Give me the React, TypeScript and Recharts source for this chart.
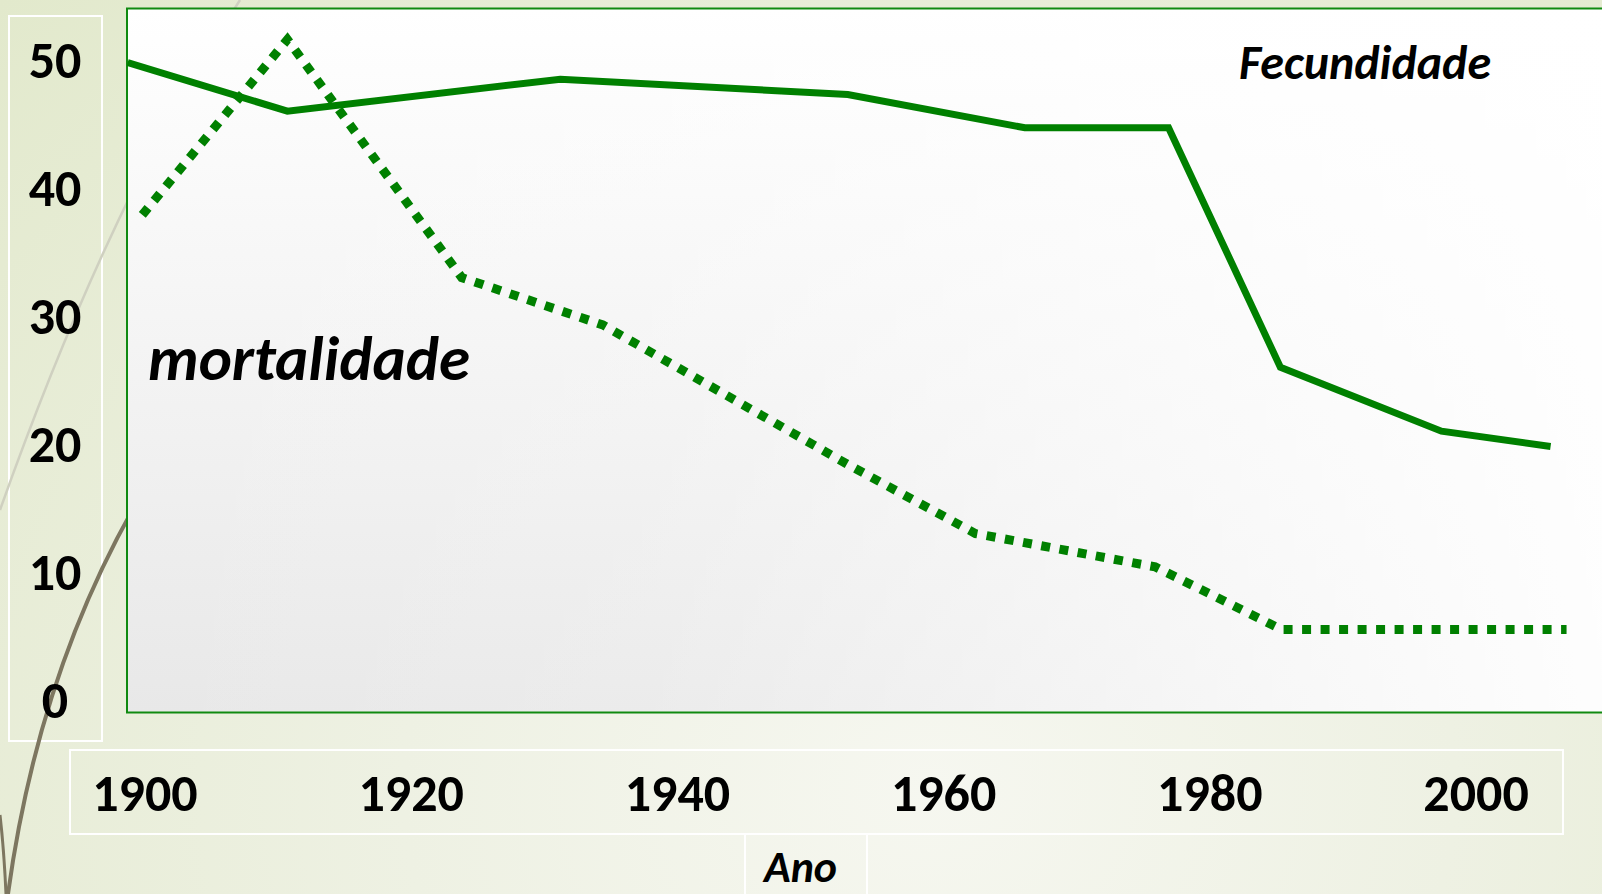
import { LineChart, Line, XAxis, YAxis } from 'recharts'

// anos e taxas (por mil)
const fecYears = [1898.7, 1910.7, 1931.2, 1952.8, 1966.1, 1976.9, 1985.3, 1997.4, 2005.6]
const fecRates = [49.8, 46.0, 48.5, 47.3, 44.7, 44.7, 26.0, 21.0, 19.8]
const mortYears = [1899.8, 1910.7, 1923.8, 1934.4, 1952.8, 1962.4, 1975.9, 1985.4, 2006.8]
const mortRates = [37.9, 51.6, 33.0, 29.3, 18.4, 13.0, 10.4, 5.5, 5.5]

const yearTicks = [1900, 1920, 1940, 1960, 1980, 2000]
const rateTicks = [0, 10, 20, 30, 40, 50]

const fecData = fecYears.map((year, i) => ({ year, rate: fecRates[i] }))
const mortData = mortYears.map((year, i) => ({ year, rate: mortRates[i] }))

const FONT = 'Carlito, Calibri, Lato, "Open Sans", sans-serif'
const GREEN = '#008000'

function YTick({ y, payload }: any) {
  return (
    <text x={55} y={y} dy="0.35em" textAnchor="middle" fontFamily={FONT} fontWeight="bold" fontSize={52} fill="#000">
      {payload.value}
    </text>
  )
}

function XTick({ x, payload }: any) {
  return (
    <text x={x} y={793} dy="0.35em" textAnchor="middle" fontFamily={FONT} fontWeight="bold" fontSize={52} fill="#000">
      {payload.value}
    </text>
  )
}

export default function App() {
  return (
    <div
      style={{
        position: 'absolute',
        left: 0,
        top: 0,
        width: 1602,
        height: 894,
        overflow: 'hidden',
        background: 'radial-gradient(ellipse at 58% 88%, #f6f7f0 0%, #eef1e3 40%, #e2e9cc 100%)',
      }}
    >
      <svg width={1602} height={894} style={{ position: 'absolute', left: 0, top: 0 }}>
        <defs>
          <linearGradient id="plotV" x1="0" y1="0" x2="0" y2="1">
            <stop offset="0" stopColor="#ffffff" />
            <stop offset="1" stopColor="#e8e8e8" />
          </linearGradient>
          <linearGradient id="plotH" x1="0" y1="0" x2="1" y2="0">
            <stop offset="0" stopColor="#ffffff" stopOpacity={0} />
            <stop offset="0.35" stopColor="#ffffff" stopOpacity={0.15} />
            <stop offset="1" stopColor="#ffffff" stopOpacity={0.95} />
          </linearGradient>
        </defs>
        <rect x={9} y={16} width={93} height={725} fill="none" stroke="#fff" strokeWidth={2} />
        <rect x={70} y={750} width={1493} height={84} fill="none" stroke="#fff" strokeWidth={2} />
        <rect x={745} y={834} width={122} height={100} fill="none" stroke="#fff" strokeWidth={2} />
        <path d="M 240 0 Q 110 200 0 510" fill="none" stroke="#cfd0c0" strokeWidth={2.5} />
        <path d="M 150 480 Q 40 660 8 894" fill="none" stroke="#7d7660" strokeWidth={4} />
        <path d="M 0 815 Q 4 850 6 894" fill="none" stroke="#7d7660" strokeWidth={3} />
        <rect x={127} y={9} width={1500} height={703} fill="url(#plotV)" />
        <rect x={127} y={9} width={1500} height={703} fill="url(#plotH)" />
        <rect x={127} y={8.5} width={1520} height={704} fill="none" stroke="#108a10" strokeWidth={2} />
      </svg>

      <div style={{ position: 'absolute', left: 0, top: 0 }}>
        <LineChart width={1660} height={894} margin={{ top: 9, right: 0, left: 0, bottom: 0 }}>
          <XAxis
            type="number"
            dataKey="year"
            domain={[1898.65, 2013.82]}
            ticks={yearTicks}
            allowDataOverflow
            axisLine={false}
            tickLine={false}
            tick={<XTick />}
            height={182}
          />
          <YAxis
            type="number"
            domain={[-0.9375, 53.98]}
            ticks={rateTicks}
            allowDataOverflow
            axisLine={false}
            tickLine={false}
            tick={<YTick />}
            width={127}
          />
          <Line
            data={mortData}
            dataKey="rate"
            type="linear"
            stroke={GREEN}
            strokeWidth={9}
            strokeDasharray="9 9.5"
            dot={false}
            isAnimationActive={false}
          />
          <Line
            data={fecData}
            dataKey="rate"
            type="linear"
            stroke={GREEN}
            strokeWidth={7}
            dot={false}
            isAnimationActive={false}
          />
        </LineChart>
      </div>

      <svg width={1602} height={894} style={{ position: 'absolute', left: 0, top: 0, pointerEvents: 'none' }}>
        <text x={1239} y={79} fontFamily={FONT} fontWeight="bold" fontStyle="italic" fontSize={48} fill="#000">
          Fecundidade
        </text>
        <text x={148} y={380} fontFamily={FONT} fontWeight="bold" fontStyle="italic" fontSize={63} fill="#000">
          mortalidade
        </text>
        <text x={764} y={882} fontFamily={FONT} fontWeight="bold" fontStyle="italic" fontSize={44} fill="#000">
          Ano
        </text>
      </svg>
    </div>
  )
}
